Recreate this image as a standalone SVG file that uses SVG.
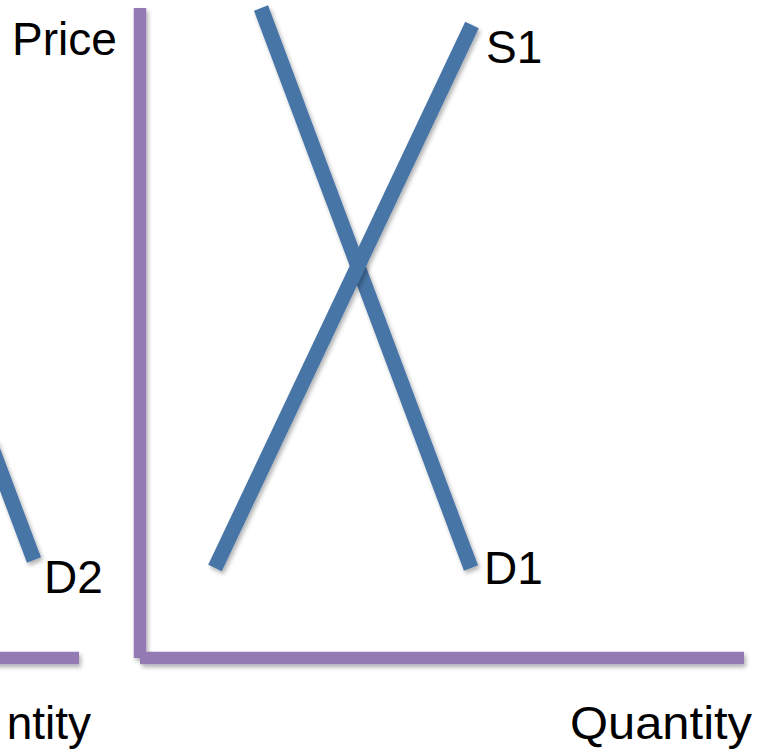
<svg xmlns="http://www.w3.org/2000/svg" width="759" height="754" viewBox="0 0 759 754">
<defs>
<filter id="sh" filterUnits="userSpaceOnUse" x="-20" y="-20" width="800" height="800">
<feDropShadow dx="2" dy="3" stdDeviation="2" flood-color="#000" flood-opacity="0.3"/>
</filter>
<style>
.axis{stroke:#937AB3;stroke-width:12.5;fill:none;filter:url(#sh)}
.curve{stroke:#4674A6;stroke-width:15;fill:none;filter:url(#sh)}
.lbl{font-family:"Liberation Sans",Arial,sans-serif;font-size:46px;fill:#000}
</style>
</defs>
<rect width="759" height="754" fill="#fff"/>
<g id="connectors">
<line class="axis" x1="140" y1="8" x2="140" y2="658"/>
<line class="axis" x1="140" y1="658" x2="744" y2="658"/>
<line class="axis" x1="-10" y1="658" x2="79" y2="658"/>
<line class="curve" x1="261" y1="8" x2="471" y2="568"/>
<line class="curve" x1="472" y1="25" x2="215" y2="568"/>
<line class="curve" x1="-10" y1="443" x2="34" y2="560"/>
</g>
<g id="price"><text class="lbl" x="12" y="55">Price</text></g>
<g id="s1"><text class="lbl" x="486" y="63">S1</text></g>
<g id="d1"><text class="lbl" x="484" y="584">D1</text></g>
<g id="d2"><text class="lbl" x="44" y="593">D2</text></g>
<g id="quantity"><text class="lbl" x="570" y="739" textLength="182" lengthAdjust="spacingAndGlyphs">Quantity</text></g>
<g id="quantity-left"><text class="lbl" x="91" y="739" text-anchor="end">ntity</text></g>
</svg>
